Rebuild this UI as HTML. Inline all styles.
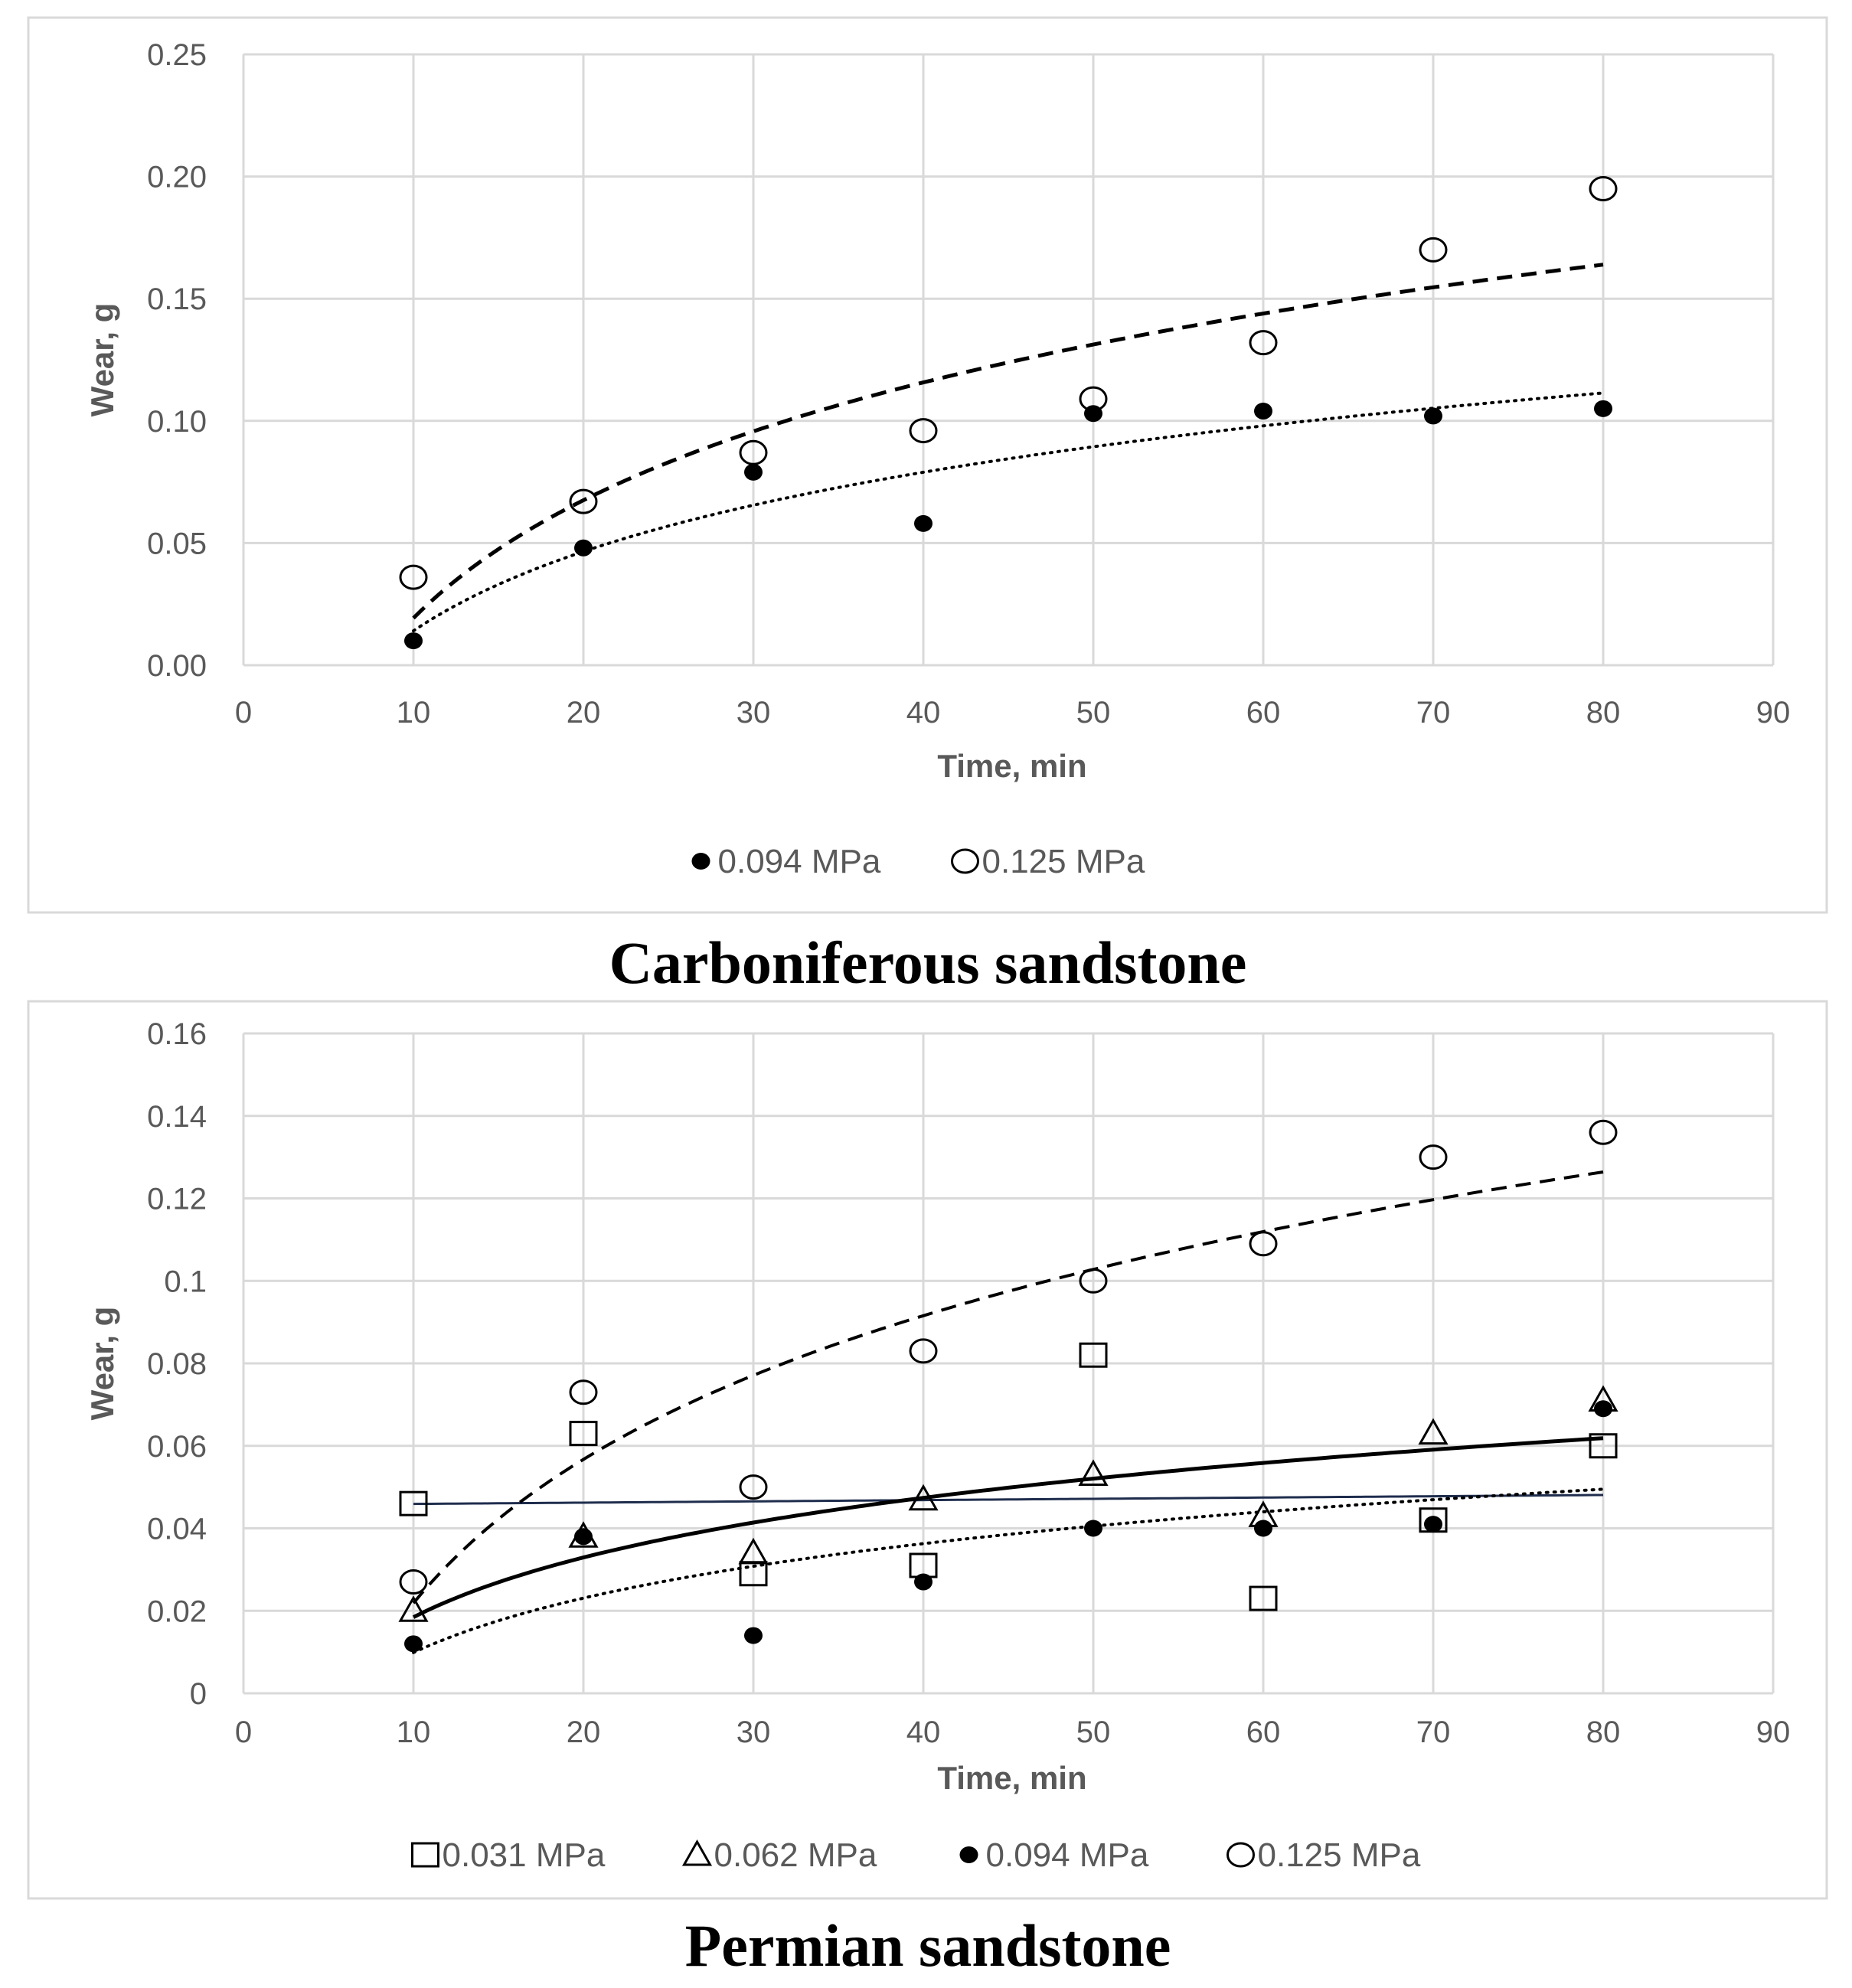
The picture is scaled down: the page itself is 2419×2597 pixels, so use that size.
<!DOCTYPE html>
<html><head><meta charset="utf-8"><style>
html,body{margin:0;padding:0;background:#fff;}
svg{display:block;}
.tick{font-family:"Liberation Sans",sans-serif;font-size:40px;fill:#595959;}
.atitle{font-family:"Liberation Sans",sans-serif;font-size:42px;font-weight:bold;fill:#595959;}
.leg{font-family:"Liberation Sans",sans-serif;font-size:44px;fill:#595959;}
.cap{font-family:"Liberation Serif",serif;font-size:78px;font-weight:bold;fill:#000;}
</style></head><body>
<svg id="fig" width="2419" height="2597" viewBox="0 0 2419 2597" xmlns="http://www.w3.org/2000/svg">
<rect x="37" y="23" width="2349" height="1169" fill="none" stroke="#d9d9d9" stroke-width="3"/>
<rect x="37" y="1308" width="2349" height="1172" fill="none" stroke="#d9d9d9" stroke-width="3"/>
<text x="1212" y="1284" text-anchor="middle" class="cap">Carboniferous sandstone</text>
<text x="1212" y="2568" text-anchor="middle" class="cap">Permian sandstone</text>
<g id="c1"></g><g id="c2"></g>
</svg>
<script>
const xTicks=[0,10,20,30,40,50,60,70,80,90];
const times=[10,20,30,40,50,60,70,80];
const topYTicks=[0,0.05,0.10,0.15,0.20,0.25];
const topYLabels=["0.00","0.05","0.10","0.15","0.20","0.25"];
const topS094=[0.010,0.048,0.079,0.058,0.103,0.104,0.102,0.105];
const topS125=[0.036,0.067,0.087,0.096,0.109,0.132,0.170,0.195];
const botYTicks=[0,0.02,0.04,0.06,0.08,0.10,0.12,0.14,0.16];
const botYLabels=["0","0.02","0.04","0.06","0.08","0.1","0.12","0.14","0.16"];
const botS031=[0.046,0.063,0.029,0.031,0.082,0.023,0.042,0.060];
const botS062=[0.020,0.038,0.034,0.047,0.053,0.043,0.063,0.071];
const botS094=[0.012,0.038,0.014,0.027,0.040,0.040,0.041,0.069];
const botS125=[0.027,0.073,0.050,0.083,0.100,0.109,0.130,0.136];
const NS="http://www.w3.org/2000/svg";
function mk(p,t,a){const e=document.createElementNS(NS,t);for(const k in a)e.setAttribute(k,a[k]);p.appendChild(e);return e;}
function fit(xs,ys,log){const n=xs.length;const X=xs.map(v=>log?Math.log(v):v);let mx=0,my=0;for(let i=0;i<n;i++){mx+=X[i];my+=ys[i];}mx/=n;my/=n;let sxy=0,sxx=0;for(let i=0;i<n;i++){sxy+=(X[i]-mx)*(ys[i]-my);sxx+=(X[i]-mx)**2;}const b=sxy/sxx,a=my-b*mx;return x=>a+b*(log?Math.log(x):x);}
function chart(g,top,bot,ymax,yT,yL,tickY,titleY,series,legY,legItems){
 const L=318,R=2316;
 const sx=v=>L+(R-L)*v/90, sy=v=>bot-(bot-top)*v/ymax;
 xTicks.forEach(t=>{const l=mk(g,'line',{x1:sx(t),x2:sx(t),y1:top,y2:bot,stroke:'#d9d9d9','stroke-width':3});
 
 
 const tx=mk(g,'text',{x:sx(t),y:tickY,'text-anchor':'middle',class:'tick'});tx.textContent=t;
 
 });
 yT.forEach((t,i)=>{const l=mk(g,'line',{x1:L,x2:R,y1:sy(t),y2:sy(t),stroke:'#d9d9d9','stroke-width':3});
 
 
 const tx=mk(g,'text',{x:270,y:sy(t)+14,'text-anchor':'end',class:'tick'});tx.textContent=yL[i];
 
 });
 const yt=mk(g,'text',{x:0,y:0,'text-anchor':'middle',class:'atitle',transform:`translate(148,${(top+bot)/2}) rotate(-90)`});yt.textContent='Wear, g';
 
 
 const xt=mk(g,'text',{x:(L+R)/2+5,y:titleY,'text-anchor':'middle',class:'atitle'});xt.textContent='Time, min';
 
 
 series.forEach(s=>{
  const f=fit(times,s.data,s.log);let d='';
  for(let x=10;x<=80.001;x+=0.5){d+=(x==10?'M':'L')+sx(x).toFixed(1)+','+sy(f(x)).toFixed(1);}
  const p=mk(g,'path',{d:d,fill:'none',stroke:s.lc,'stroke-width':s.lw,'stroke-dasharray':s.dash,'stroke-linecap':s.dash=='2 8'?'round':'butt'});
  
  
 });
 series.forEach(s=>{s.data.forEach((v,i)=>{const m=marker(g,s.m,sx(times[i]),sy(v));
  
  });});
 let tw=0;legItems.forEach(it=>tw+=it.w);let x=1222-tw/2;
 legItems.forEach(it=>{const m=marker(g,it.m,x+16,legY-15);
  
  
  const t=mk(g,'text',{x:x+38,y:legY,class:'leg'});t.textContent=it.label;
  
  
  x+=it.w;});
}
function marker(g,type,x,y){
 if(type=='dot')return mk(g,'ellipse',{cx:x,cy:y,rx:12,ry:11,fill:'#000'});
 if(type=='circle')return mk(g,'ellipse',{cx:x,cy:y,rx:17,ry:15,fill:'none',stroke:'#000','stroke-width':3});
 if(type=='square')return mk(g,'rect',{x:x-17,y:y-15,width:34,height:30,fill:'none',stroke:'#000','stroke-width':3});
 return mk(g,'polygon',{points:`${x},${y-17} ${x+17},${y+13} ${x-17},${y+13}`,fill:'none',stroke:'#000','stroke-width':3});
}
chart(document.getElementById('c1'),71,869,0.25,topYTicks,topYLabels,944,1015,
 [{name:'0.094-mpa',data:topS094,log:true,m:'dot',lc:'#000',lw:4,dash:'2 8'},
  {name:'0.125-mpa',data:topS125,log:true,m:'circle',lc:'#000',lw:5,dash:'20 12'}],
 1140,[{m:'dot',label:'0.094 MPa',w:345},{m:'circle',label:'0.125 MPa',w:300}]);
chart(document.getElementById('c2'),1350,2212,0.16,botYTicks,botYLabels,2276,2337,
 [{name:'0.031-mpa',data:botS031,log:false,m:'square',lc:'#1f2d4d',lw:3,dash:'none'},
  {name:'0.062-mpa',data:botS062,log:true,m:'triangle',lc:'#000',lw:5,dash:'none'},
  {name:'0.094-mpa',data:botS094,log:true,m:'dot',lc:'#000',lw:4,dash:'2 8'},
  {name:'0.125-mpa',data:botS125,log:true,m:'circle',lc:'#000',lw:4,dash:'20 12'}],
 2438,[{m:'square',label:'0.031 MPa',w:355},{m:'triangle',label:'0.062 MPa',w:355},{m:'dot',label:'0.094 MPa',w:355},{m:'circle',label:'0.125 MPa',w:300}]);
</script>
</body></html>
